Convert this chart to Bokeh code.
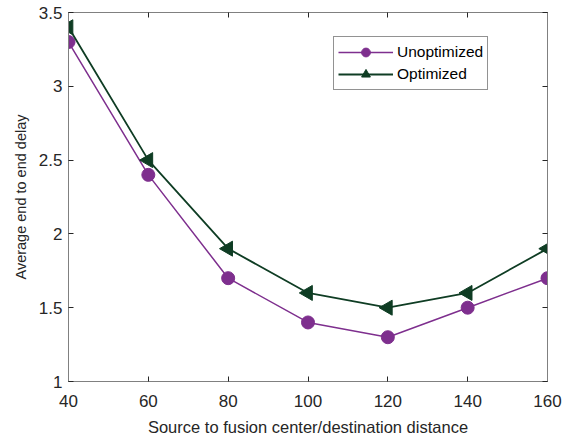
from bokeh.plotting import figure
from bokeh.models import LinearAxis, FixedTicker, Range1d, Legend, LegendItem, CustomJSTickFormatter
from bokeh.embed import file_html
from bokeh.resources import INLINE
import math

distance = [40, 60, 80, 100, 120, 140, 160]
unoptimized = [3.3, 2.4, 1.7, 1.4, 1.3, 1.5, 1.7]
optimized = [3.4, 2.5, 1.9, 1.6, 1.5, 1.6, 1.9]
x_ticks = [40, 60, 80, 100, 120, 140, 160]
y_ticks = [1, 1.5, 2, 2.5, 3, 3.5]

PURPLE = "#7E2F8E"
GREEN = "#0F3D24"
FONT = "Liberation Sans"
AXC = "#808080"
TXT = "#262626"

p = figure(width=570, height=439, output_backend="svg", toolbar_location=None,
           x_range=Range1d(40, 160), y_range=Range1d(1, 3.5),
           min_border_left=68, min_border_right=23, min_border_top=12, min_border_bottom=58,
           x_axis_location=None, y_axis_location=None)
p.xgrid.visible = False
p.ygrid.visible = False
p.outline_line_color = AXC
p.outline_line_width = 1
p.background_fill_color = "white"
p.border_fill_color = "white"

def style(ax, ticks, labels=True):
    ax.ticker = FixedTicker(ticks=ticks)
    ax.axis_line_color = AXC
    ax.major_tick_line_color = TXT
    ax.major_tick_in = 5
    ax.major_tick_out = 0
    ax.minor_tick_line_color = None
    ax.major_label_text_font = FONT
    ax.major_label_text_color = TXT
    if labels:
        ax.major_label_text_font_size = "17px"
    else:
        ax.formatter = CustomJSTickFormatter(code="return ''")
        ax.major_label_text_font_size = "1px"
        ax.major_label_standoff = 0

xb = LinearAxis(axis_label="Source to fusion center/destination distance")
style(xb, x_ticks)
xb.major_label_standoff = 13
xb.axis_label_text_font = FONT
xb.axis_label_text_font_size = "16.5px"
xb.axis_label_text_font_style = "normal"
xb.axis_label_text_color = TXT
xb.axis_label_standoff = 8
p.add_layout(xb, "below")

yl = LinearAxis(axis_label="Average end to end delay")
style(yl, y_ticks)
yl.major_label_standoff = 6
yl.axis_label_text_font = FONT
yl.axis_label_text_font_size = "14.5px"
yl.axis_label_text_font_style = "normal"
yl.axis_label_text_color = TXT
yl.axis_label_standoff = 7
p.add_layout(yl, "left")

xt = LinearAxis()
style(xt, x_ticks, labels=False)
p.add_layout(xt, "above")
yr = LinearAxis()
style(yr, y_ticks, labels=False)
p.add_layout(yr, "right")

l1 = p.line(distance, unoptimized, line_color=PURPLE, line_width=1.5)
m1 = p.scatter(distance, unoptimized, marker="circle", size=13,
               fill_color=PURPLE, line_color=PURPLE)
l2 = p.line(distance, optimized, line_color=GREEN, line_width=1.8)
m2 = p.scatter(distance, optimized, marker="triangle", size=15, angle=math.pi / 2,
               fill_color=GREEN, line_color=GREEN)

legend = Legend(items=[LegendItem(label="Unoptimized", renderers=[l1, m1]),
                       LegendItem(label="Optimized", renderers=[l2, m2])],
                location=(265, 291))
legend.glyph_width = 55
legend.glyph_height = 22
legend.label_height = 20
legend.label_text_font = FONT
legend.label_text_font_size = "15.5px"
legend.label_text_color = "black"
legend.label_standoff = 4
legend.spacing = 0
legend.padding = 4
legend.margin = 0
legend.border_line_color = "#262626"
legend.border_line_width = 1
legend.background_fill_color = "white"
legend.background_fill_alpha = 1
p.add_layout(legend, "center")

open("out.html", "w").write(file_html(p, INLINE))
